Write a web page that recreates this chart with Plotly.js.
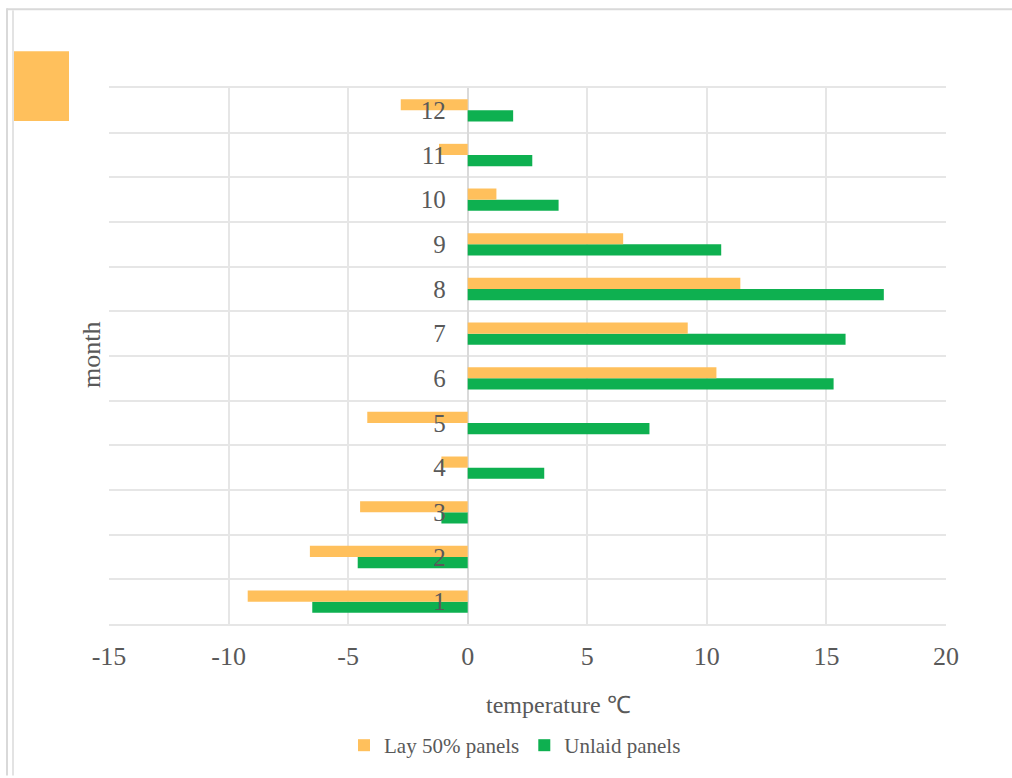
<!DOCTYPE html>
<html>
<head>
<meta charset="utf-8">
<script src="https://cdn.plot.ly/plotly-3.0.1.min.js"></script>
<style>
  html, body { margin: 0; padding: 0; background: #fff; }
  #chart { width: 1012px; height: 778px; }
</style>
</head>
<body>
<div id="chart"></div>
<script>
const months = [1, 2, 3, 4, 5, 6, 7, 8, 9, 10, 11, 12];
const monthLabels = ['1', '2', '3', '4', '5', '6', '7', '8', '9', '10', '11', '12'];
const lay50 = [-9.2, -6.6, -4.5, -1.1, -4.2, 10.4, 9.2, 11.4, 6.5, 1.2, -1.2, -2.8];
const unlaid = [-6.5, -4.6, -1.1, 3.2, 7.6, 15.3, 15.8, 17.4, 10.6, 3.8, 2.7, 1.9];
const xTicks = [-15, -10, -5, 0, 5, 10, 15, 20];
const seriesNames = ['Lay 50% panels', 'Unlaid panels'];

const ORANGE = '#FFC05C';
const GREEN = '#0EB050';
const TXT = '#595959';
const FONT = "'Liberation Serif', 'Times New Roman', serif";

// plot area in px: x 109..946, y 88..626
const L = 109, R = 946, T = 88, B = 626;
const px = v => (v - L) / (R - L);
const py = v => (B - v) / (B - T);

const traces = [
  {
    type: 'bar', orientation: 'h', name: seriesNames[1],
    x: unlaid, y: months,
    marker: { color: GREEN },
    hoverinfo: 'x+y'
  },
  {
    type: 'bar', orientation: 'h', name: seriesNames[0],
    x: lay50, y: months,
    marker: { color: ORANGE },
    hoverinfo: 'x+y'
  }
];

const layout = {
  width: 1012, height: 778,
  margin: { l: L, r: 1012 - R, t: T, b: 778 - B, pad: 0 },
  paper_bgcolor: '#ffffff',
  plot_bgcolor: '#ffffff',
  font: { family: FONT, color: TXT, size: 20 },
  barmode: 'group',
  bargap: 0.5,
  bargroupgap: 0,
  showlegend: true,
  legend: {
    orientation: 'h', traceorder: 'reversed',
    x: px(515), xanchor: 'center',
    y: py(748), yanchor: 'middle',
    font: { family: FONT, size: 21, color: TXT },
    itemwidth: 30
  },
  xaxis: {
    range: [-15, 20],
    tickvals: xTicks,
    ticktext: xTicks.map(String),
    showgrid: true, gridcolor: '#e6e6e6', gridwidth: 2,
    zeroline: true, zerolinecolor: '#dadada', zerolinewidth: 2,
    showline: true, linecolor: '#e6e6e6', linewidth: 2, mirror: true,
    ticks: '', ticklabelstandoff: 8,
    tickfont: { family: FONT, size: 26, color: TXT },
    fixedrange: true
  },
  yaxis: {
    range: [0.5, 12.5],
    tickvals: months,
    ticktext: monthLabels,
    anchor: 'free',
    position: 15 / 35,
    showgrid: false,
    zeroline: false,
    showline: false,
    ticks: '', ticklabelstandoff: 22,
    tickfont: { family: FONT, size: 25, color: TXT },
    minor: { tickmode: 'linear', tick0: 0.5, dtick: 1, showgrid: true, gridcolor: '#e6e6e6', gridwidth: 2, ticks: '' },
    fixedrange: true
  },
  annotations: [
    {
      text: 'month', xref: 'paper', yref: 'paper',
      x: px(91), y: py(356), xanchor: 'center', yanchor: 'middle',
      textangle: -90, showarrow: false,
      font: { family: FONT, size: 26, color: TXT }
    },
    {
      text: 'temperature ℃', xref: 'paper', yref: 'paper',
      x: px(558), y: py(707), xanchor: 'center', yanchor: 'middle',
      showarrow: false,
      font: { family: FONT, size: 24, color: TXT }
    }
  ],
  shapes: [
    // orange block at top-left
    { type: 'rect', xref: 'paper', yref: 'paper',
      x0: px(12), x1: px(69), y0: py(121), y1: py(51),
      fillcolor: ORANGE, line: { width: 0 } },
    // frame lines
    { type: 'line', xref: 'paper', yref: 'paper',
      x0: px(7), x1: px(1012), y0: py(9), y1: py(9),
      line: { color: '#d9d9d9', width: 2 } },
    { type: 'line', xref: 'paper', yref: 'paper',
      x0: px(7), x1: px(7), y0: py(8), y1: py(778),
      line: { color: '#d9d9d9', width: 2 } },
    { type: 'line', xref: 'paper', yref: 'paper',
      x0: px(13), x1: px(13), y0: py(10), y1: py(778),
      line: { color: '#e3e3e3', width: 2 } }
  ]
};

Plotly.newPlot('chart', traces, layout, { displayModeBar: false, staticPlot: true });
</script>
</body>
</html>
